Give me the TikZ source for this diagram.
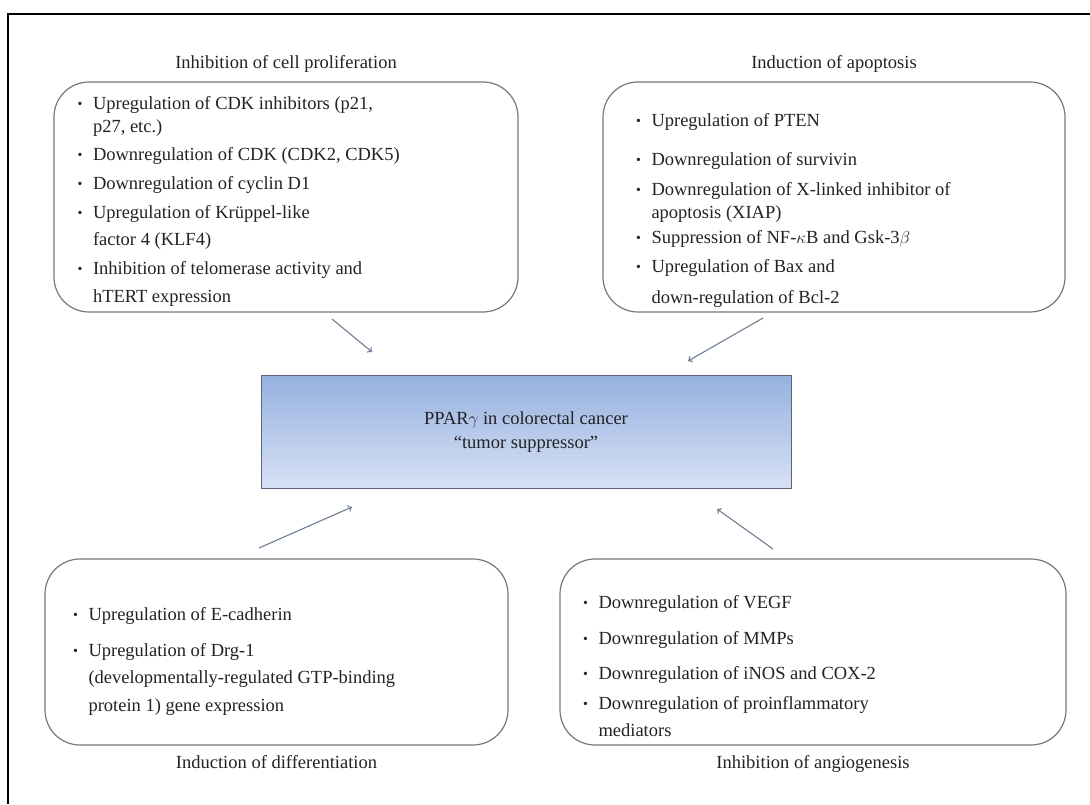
\documentclass[tikz,border=0pt]{standalone}
\usepackage{fontspec}
\setmainfont{Liberation Serif}
\usetikzlibrary{positioning,arrows.meta}

\definecolor{frameColor}{RGB}{0,0,0}
\definecolor{boxColor}{RGB}{120,120,120}
\definecolor{arrowColor}{RGB}{112,126,150}
\definecolor{textColor}{RGB}{35,35,35}
\definecolor{pparTop}{RGB}{150,178,224}
\definecolor{pparBottom}{RGB}{216,225,245}
\definecolor{pparLine}{RGB}{90,100,122}

\newcommand{\bul}{\makebox[15.5pt][l]{\raisebox{1pt}{\scalebox{0.75}{\textbullet}}}}

\tikzset{
  roundbox/.style={draw=boxColor,line width=1.2pt,rounded corners=35pt,fill=white},
  pparbox/.style={draw=pparLine,line width=1pt,top color=pparTop,bottom color=pparBottom,
    minimum width=530pt,minimum height=113pt,align=center,text=textColor,font=\fontsize{18.5}{24}\selectfont},
  title/.style={text=textColor,inner sep=0pt,outer sep=0pt},
  item/.style={text=textColor,anchor=base west,inner sep=0pt,outer sep=0pt},
  link/.style={draw=arrowColor,line width=1.1pt,-{To[length=4pt,width=7pt]}}
}

\begin{document}
\begin{tikzpicture}[x=1pt,y=1pt,font=\fontsize{18.5}{22}\selectfont]
\path[use as bounding box,fill=white] (0,0) rectangle (1090,804);

% outer frame
\draw[frameColor,line width=1.5pt] (8,0) -- (8,790) -- (1090,790);

% boxes
\node[roundbox,minimum width=464pt,minimum height=230pt] (boxProlif) at (286,607) {};
\node[roundbox,minimum width=462pt,minimum height=230pt] (boxApop) at (834,607) {};
\node[roundbox,minimum width=463pt,minimum height=186pt] (boxDiff) at (276.5,152) {};
\node[roundbox,minimum width=506pt,minimum height=186pt] (boxAngio) at (813,152) {};
\node[pparbox] (ppar) at (526,371.5) {PPAR$\gamma$ in colorectal cancer\\``tumor suppressor''};

% titles
\node[title,above=9pt of boxProlif] (ttlProlif) {Inhibition of cell proliferation};
\node[title,above=9pt of boxApop] (ttlApop) {Induction of apoptosis};
\node[title,below=10pt of boxDiff] (ttlDiff) {Induction of differentiation};
\node[title,below=10pt of boxAngio] (ttlAngio) {Inhibition of angiogenesis};

% inhibition of cell proliferation
\node[item] (p1) at (77.5,694) {\bul Upregulation of CDK inhibitors (p21,};
\node[item] (p2) at (93,671) {p27, etc.)};
\node[item] (p3) at (77.5,643) {\bul Downregulation of CDK (CDK2, CDK5)};
\node[item] (p4) at (77.5,614) {\bul Downregulation of cyclin D1};
\node[item] (p5) at (77.5,585) {\bul Upregulation of Krüppel-like};
\node[item] (p6) at (93,558) {factor 4 (KLF4)};
\node[item] (p7) at (77.5,529) {\bul Inhibition of telomerase activity and};
\node[item] (p8) at (93,501) {hTERT expression};

% induction of apoptosis
\node[item] (a1) at (636,677) {\bul Upregulation of PTEN};
\node[item] (a2) at (636,638) {\bul Downregulation of survivin};
\node[item] (a3) at (636,608) {\bul Downregulation of X-linked inhibitor of};
\node[item] (a4) at (651.5,585) {apoptosis (XIAP)};
\node[item] (a5) at (636,560) {\bul Suppression of NF-$\kappa$B and Gsk-3$\beta$};
\node[item] (a6) at (636,531) {\bul Upregulation of Bax and};
\node[item] (a7) at (651.5,500) {down-regulation of Bcl-2};

% induction of differentiation
\node[item] (d1) at (73,184) {\bul Upregulation of E-cadherin};
\node[item] (d2) at (73,148) {\bul Upregulation of Drg-1};
\node[item] (d3) at (88.5,121) {(developmentally-regulated GTP-binding};
\node[item] (d4) at (88.5,93) {protein 1) gene expression};

% inhibition of angiogenesis
\node[item] (g1) at (583,196) {\bul Downregulation of VEGF};
\node[item] (g2) at (583,160) {\bul Downregulation of MMPs};
\node[item] (g3) at (583,125) {\bul Downregulation of iNOS and COX-2};
\node[item] (g4) at (583,95) {\bul Downregulation of proinflammatory};
\node[item] (g5) at (598.5,68) {mediators};

% arrows towards the central box
\coordinate (prolifFrom) at (332,485);
\coordinate (prolifTo) at (372,452);
\coordinate (apopFrom) at (763,486);
\coordinate (apopTo) at (688,443);
\coordinate (diffFrom) at (259,256);
\coordinate (diffTo) at (352,297);
\coordinate (angioFrom) at (773,255);
\coordinate (angioTo) at (717,295);
\draw[link] (prolifFrom) -- (prolifTo);
\draw[link] (apopFrom) -- (apopTo);
\draw[link] (diffFrom) -- (diffTo);
\draw[link] (angioFrom) -- (angioTo);
\end{tikzpicture}
\end{document}
